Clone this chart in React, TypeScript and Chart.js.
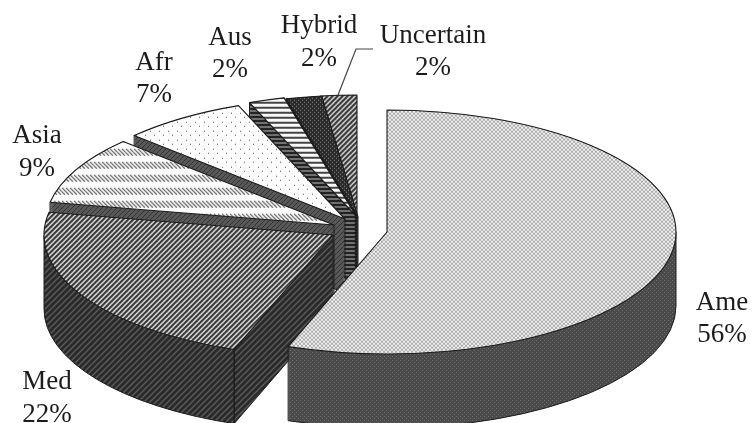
import React, { useEffect, useRef } from "react";
import { Chart, registerables } from "chart.js";

Chart.register(...registerables);

const categories = ["Ame", "Med", "Asia", "Afr", "Aus", "Hybrid", "Uncertain"];
const shares = [55.5, 22.4, 9, 7, 2, 2, 2];

const FONT = '27px "Liberation Serif", serif';
const INK = "#1c1c1c";
const SQUASH = 122 / 289;
const DEPTH = 74;
const centers = [[387, 232], [333, 235], [334, 225], [345, 219], [356, 216], [358, 217], [357, 217]];
const labelPlaces = [[722, 310, 342], [47, 389, 422], [37, 143, 176], [154, 70, 102], [230, 45, 77], [319, 33, 66], [433, 43, 75]];

type Painter = (c: CanvasRenderingContext2D) => void;

function tile(w: number, h: number, bg: string, paint: Painter): HTMLCanvasElement {
  const cv = document.createElement("canvas");
  cv.width = w;
  cv.height = h;
  const c = cv.getContext("2d")!;
  c.fillStyle = bg;
  c.fillRect(0, 0, w, h);
  paint(c);
  return cv;
}

function dots(size: number, bg: string, fg: string, pts: number[][], d = 1) {
  return tile(size, size, bg, (c) => {
    c.fillStyle = fg;
    pts.forEach(([x, y]) => c.fillRect(x, y, d, d));
  });
}

function stripes(size: number, bg: string, fg: string, lw: number, dir: 1 | -1) {
  return tile(size, size, bg, (c) => {
    c.strokeStyle = fg;
    c.lineWidth = lw;
    for (let i = -1; i <= 1; i++) {
      c.beginPath();
      if (dir > 0) {
        c.moveTo(i * size - 1, size + 1);
        c.lineTo(i * size + size + 1, -1);
      } else {
        c.moveTo(i * size - 1, -1);
        c.lineTo(i * size + size + 1, size + 1);
      }
      c.stroke();
    }
  });
}

function bands(size: number, bg: string, fg: string, thick: number) {
  return tile(4, size, bg, (c) => {
    c.fillStyle = fg;
    c.fillRect(0, 0, 4, thick);
  });
}

function hatchBands() {
  return tile(8, 13, "#fbfbfb", (c) => {
    c.strokeStyle = "#5a5a5a";
    c.lineWidth = 1.1;
    for (let i = -2; i <= 2; i++) {
      c.beginPath();
      c.moveTo(i * 4, 0);
      c.lineTo(i * 4 + 7, 7);
      c.stroke();
    }
    c.fillStyle = "#fbfbfb";
    c.fillRect(0, 7, 8, 6);
  });
}

function pattern(ctx: CanvasRenderingContext2D, cv: HTMLCanvasElement) {
  return ctx.createPattern(cv, "repeat")!;
}

function flatten(p: CanvasPattern) {
  p.setTransform(new DOMMatrix([1, 0, 0, 1 / SQUASH, 0, 0]));
  return p;
}

function slicePath(c: CanvasRenderingContext2D, x: number, y: number, r: number, a0: number, a1: number) {
  c.moveTo(x, y);
  c.ellipse(x, y, r, r * SQUASH, 0, a0, a1);
  c.closePath();
}

export default function App() {
  const ref = useRef<HTMLCanvasElement>(null);

  useEffect(() => {
    document.body.style.margin = "0";
    const canvas = ref.current!;
    const ctx = canvas.getContext("2d")!;

    const topTiles = [
      dots(4, "#f0f0f0", "#acacac", [[0, 0], [2, 2]], 2),
      stripes(5, "#eeeeee", "#333333", 2.1, 1),
      hatchBands(),
      dots(9, "#fdfdfd", "#555555", [[1, 1], [5, 5]], 1),
      bands(5, "#fafafa", "#444444", 2),
      dots(4, "#2a2a2a", "#8a8a8a", [[0, 0], [2, 2]], 1),
      stripes(5, "#dddddd", "#333333", 2, 1),
    ];
    const wallTiles = [
      dots(4, "#4a4a4a", "#6e6e6e", [[0, 0], [2, 2]], 1),
      stripes(6, "#2a2a2a", "#5c5c5c", 1.3, 1),
      stripes(5, "#585858", "#333333", 1, 1),
      stripes(5, "#585858", "#333333", 1, 1),
      bands(4, "#707070", "#222222", 2),
      bands(3, "#141414", "#333333", 1),
      stripes(4, "#4a4a4a", "#1c1c1c", 1.2, 1),
    ];
    const walls = wallTiles.map((t) => pattern(ctx, t));

    const depthPlugin = {
      id: "extrudedPie",
      beforeDatasetsDraw(chart: Chart) {
        const c = chart.ctx;
        const arcs = chart.getDatasetMeta(0).data as any[];
        c.save();
        c.lineJoin = "round";
        for (let i = arcs.length - 1; i >= 0; i--) {
          const el = arcs[i];
          const [x, y] = centers[i];
          const r = el.outerRadius as number;
          const a0 = el.startAngle as number;
          const a1 = el.endAngle as number;
          const px = (a: number) => x + Math.cos(a) * r;
          const py = (a: number) => y + Math.sin(a) * r * SQUASH;

          c.beginPath();
          for (let d = 0; d <= DEPTH; d++) slicePath(c, x, y + d, r, a0, a1);
          c.fillStyle = walls[i];
          c.fill();

          c.strokeStyle = INK;
          c.lineWidth = 1;
          const from = Math.max(a0, 0);
          const to = Math.min(a1, Math.PI);
          if (to > from) {
            c.beginPath();
            c.ellipse(x, y + DEPTH, r, r * SQUASH, 0, from, to);
            c.stroke();
            [from, to].forEach((a) => {
              c.beginPath();
              c.moveTo(px(a), py(a));
              c.lineTo(px(a), py(a) + DEPTH);
              c.stroke();
            });
          }
          if (i > 0) {
            c.beginPath();
            c.moveTo(x, y);
            c.lineTo(x, y + DEPTH);
            c.lineTo(px(a0), py(a0) + DEPTH);
            c.lineTo(px(a0), py(a0));
            c.stroke();
          }

          c.save();
          c.translate(x, y);
          c.scale(1, SQUASH);
          c.translate(-el.x, -el.y);
          el.draw(c);
          c.restore();

          c.beginPath();
          slicePath(c, x, y, r, a0, a1);
          c.strokeStyle = INK;
          c.lineWidth = 1.1;
          c.stroke();
        }
        c.restore();
        return false;
      },
      afterDraw(chart: Chart) {
        const c = chart.ctx;
        c.save();
        c.font = FONT;
        c.fillStyle = INK;
        c.textAlign = "center";
        c.textBaseline = "alphabetic";
        categories.forEach((name, i) => {
          const [x, y1, y2] = labelPlaces[i];
          c.fillText(name, x, y1);
          c.fillText(`${Math.round(shares[i])}%`, x, y2);
        });
        c.strokeStyle = "#444444";
        c.lineWidth = 1.2;
        c.beginPath();
        c.moveTo(373, 49);
        c.lineTo(356, 49);
        c.lineTo(338, 95);
        c.stroke();
        c.restore();
      },
    };

    const chart = new Chart(canvas, {
      type: "pie",
      data: {
        labels: categories,
        datasets: [
          {
            data: shares,
            backgroundColor: topTiles.map((t) => flatten(pattern(ctx, t))),
            borderWidth: 0,
            radius: 289,
          } as any,
        ],
      },
      options: {
        animation: false,
        responsive: false,
        layout: { padding: 0 },
        plugins: { legend: { display: false }, tooltip: { enabled: false } },
      },
      plugins: [depthPlugin as any],
    });
    return () => chart.destroy();
  }, []);

  return <canvas ref={ref} width={752} height={423} style={{ display: "block", filter: "blur(0.45px)" }} />;
}
